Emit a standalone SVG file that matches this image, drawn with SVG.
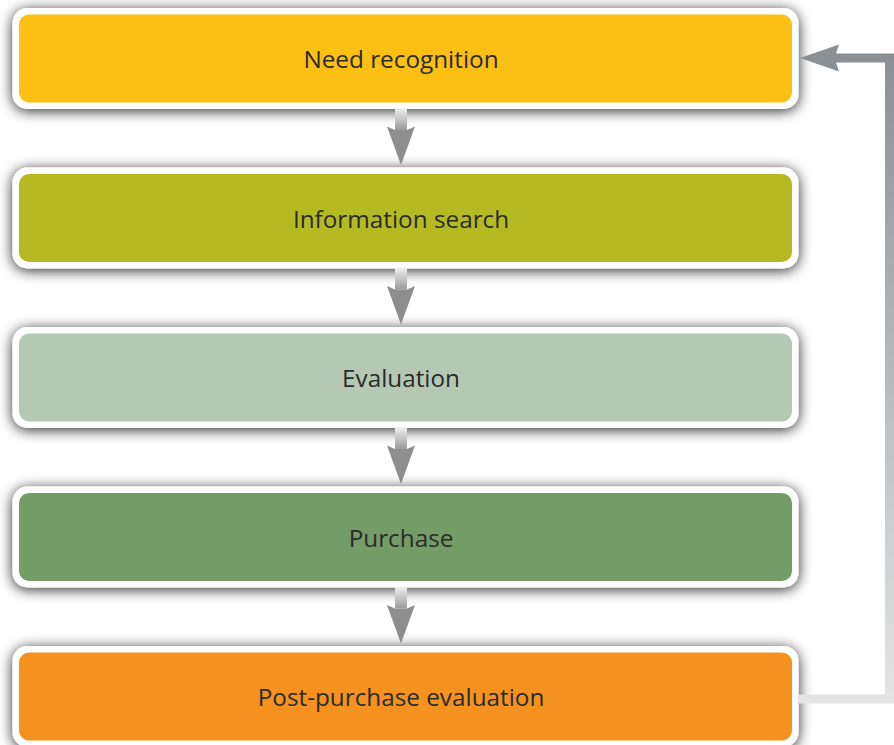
<svg xmlns="http://www.w3.org/2000/svg" width="894" height="745" viewBox="0 0 894 745">
  <defs>
    <filter id="sh" x="-5%" y="-30%" width="110%" height="160%">
      <feGaussianBlur in="SourceAlpha" stdDeviation="7"/>
      <feOffset dx="0" dy="2" result="b"/>
      <feComponentTransfer><feFuncA type="linear" slope="0.85"/></feComponentTransfer>
      <feMerge><feMergeNode/><feMergeNode in="SourceGraphic"/></feMerge>
    </filter>
    <linearGradient id="shaft" x1="0" y1="0" x2="0" y2="1">
      <stop offset="0" stop-color="#f2f2f2"/>
      <stop offset="1" stop-color="#9a9a9a"/>
    </linearGradient>
    <linearGradient id="fb" gradientUnits="userSpaceOnUse" x1="0" y1="700" x2="0" y2="58">
      <stop offset="0" stop-color="#e4e4e4"/>
      <stop offset="1" stop-color="#8b9095"/>
    </linearGradient>
    <style>
      .frame{fill:#ffffff;}
      .lbl{font-family:"Open Sans","Noto Sans","Liberation Sans",sans-serif;font-size:24.3px;fill:#2b2b2b;text-anchor:middle;}
      .head{fill:#8e8e8e;}
    </style>
  </defs>
  <rect width="894" height="745" fill="#ffffff"/>

  <g id="node-need">
    <rect class="frame" x="12.5" y="8" width="786" height="101" rx="15" filter="url(#sh)"/>
    <rect x="19" y="14.5" width="773" height="88" rx="10" fill="#fcbf13"/>
    <text class="lbl" x="401" y="68">Need recognition</text>
  </g>
  <g id="node-info">
    <rect class="frame" x="12.5" y="167.5" width="786" height="101" rx="15" filter="url(#sh)"/>
    <rect x="19" y="174" width="773" height="88" rx="10" fill="#b5ba22"/>
    <text class="lbl" x="401" y="227.5">Information search</text>
  </g>
  <g id="node-eval">
    <rect class="frame" x="12.5" y="327" width="786" height="101" rx="15" filter="url(#sh)"/>
    <rect x="19" y="333.5" width="773" height="88" rx="10" fill="#b5c8b4"/>
    <text class="lbl" x="401" y="387">Evaluation</text>
  </g>
  <g id="node-purchase">
    <rect class="frame" x="12.5" y="486.5" width="786" height="101" rx="15" filter="url(#sh)"/>
    <rect x="19" y="493" width="773" height="88" rx="10" fill="#739c66"/>
    <text class="lbl" x="401" y="546.5">Purchase</text>
  </g>
  <g id="node-post">
    <rect class="frame" x="12.5" y="646" width="786" height="101" rx="15" filter="url(#sh)"/>
    <rect x="19" y="652.5" width="773" height="88" rx="10" fill="#f4911f"/>
    <text class="lbl" x="401" y="706">Post-purchase evaluation</text>
  </g>

  <g id="connectors">
    <g id="down1">
      <rect x="395" y="108" width="12" height="22" fill="url(#shaft)"/>
      <polygon class="head" points="395,130 387,126.5 401,165 415,126.5 407,130"/>
    </g>
    <g id="down2">
      <rect x="395" y="267.5" width="12" height="22" fill="url(#shaft)"/>
      <polygon class="head" points="395,289.5 387,286 401,324.5 415,286 407,289.5"/>
    </g>
    <g id="down3">
      <rect x="395" y="427" width="12" height="22" fill="url(#shaft)"/>
      <polygon class="head" points="395,449 387,445.5 401,484 415,445.5 407,449"/>
    </g>
    <g id="down4">
      <rect x="395" y="586.5" width="12" height="22" fill="url(#shaft)"/>
      <polygon class="head" points="395,608.5 387,605 401,643.5 415,605 407,608.5"/>
    </g>
    <g id="feedback">
      <path d="M798,699 H889.5 V58 H834" fill="none" stroke="url(#fb)" stroke-width="9"/>
      <polygon points="800,58 839,44.5 834.5,58 839,71.5" fill="#8b9095"/>
    </g>
  </g>
</svg>
